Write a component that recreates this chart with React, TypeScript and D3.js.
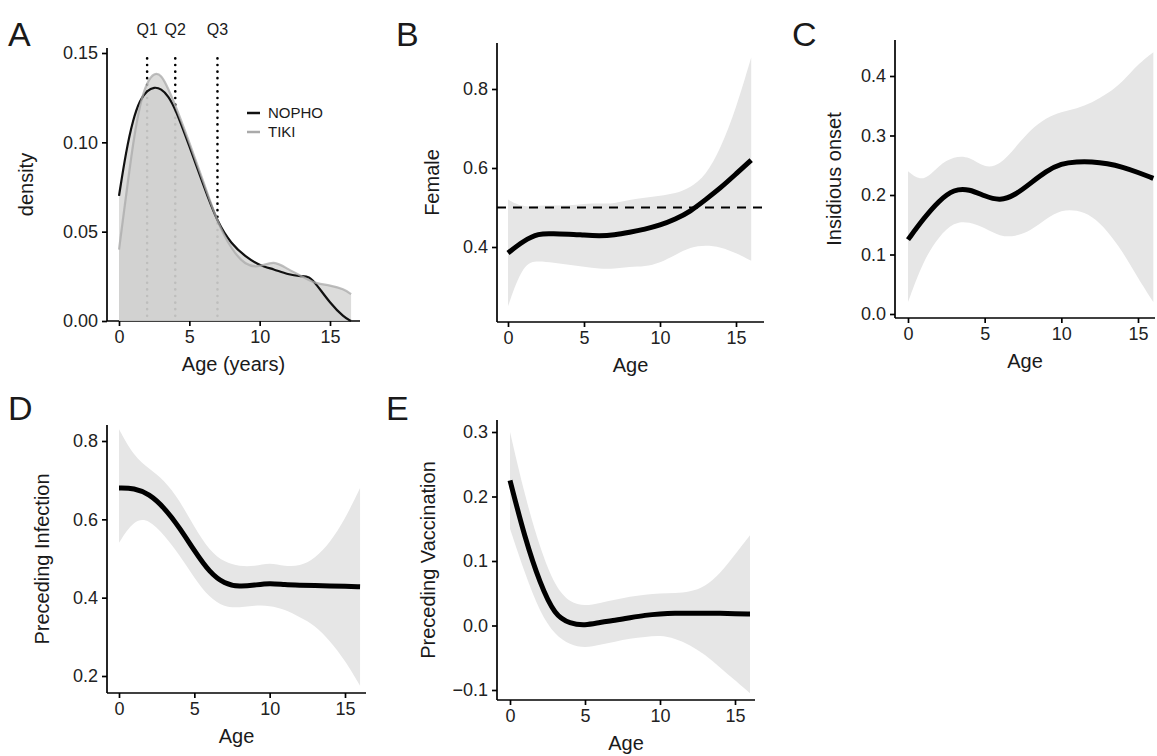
import { useEffect, useRef } from 'react';
import * as d3 from 'd3';

// Panel A: density by age
const densAges = [0, 0.5, 1, 1.5, 2, 2.5, 3, 3.5, 4, 5, 6, 7, 8, 9, 10, 11, 12, 13, 13.5, 14, 15, 16, 16.5];
const nopho = [0.07, 0.095, 0.113, 0.124, 0.129, 0.131, 0.13, 0.126, 0.119, 0.098, 0.076, 0.055, 0.043, 0.036, 0.031, 0.029, 0.026, 0.025, 0.025, 0.021, 0.01, 0.002, 0.0];
const tiki = [0.04, 0.07, 0.1, 0.122, 0.134, 0.139, 0.138, 0.13, 0.121, 0.1, 0.078, 0.055, 0.04, 0.031, 0.03, 0.034, 0.029, 0.025, 0.023, 0.021, 0.02, 0.018, 0.015];
const quartiles = [2, 4, 7];
const quartileLabels = ['Q1', 'Q2', 'Q3'];

// Panels B–E: smoothed fits with confidence bands
const ages = [0, 1, 2, 3, 4, 5, 6, 7, 8, 9, 10, 11, 12, 13, 14, 15, 16];
const femaleFit = [0.385, 0.415, 0.435, 0.433, 0.433, 0.43, 0.428, 0.43, 0.437, 0.445, 0.455, 0.47, 0.49, 0.52, 0.55, 0.585, 0.62];
const femaleLo = [0.25, 0.36, 0.365, 0.36, 0.355, 0.35, 0.345, 0.345, 0.35, 0.35, 0.36, 0.38, 0.4, 0.405, 0.4, 0.385, 0.365];
const femaleHi = [0.52, 0.5, 0.505, 0.505, 0.505, 0.51, 0.51, 0.51, 0.52, 0.525, 0.53, 0.535, 0.55, 0.58, 0.65, 0.75, 0.88];
const onsetFit = [0.125, 0.16, 0.19, 0.21, 0.21, 0.198, 0.19, 0.2, 0.22, 0.24, 0.253, 0.256, 0.256, 0.253, 0.247, 0.238, 0.228];
const onsetLo = [0.02, 0.09, 0.13, 0.155, 0.155, 0.145, 0.13, 0.13, 0.14, 0.16, 0.175, 0.175, 0.165, 0.14, 0.105, 0.06, 0.02];
const onsetHi = [0.24, 0.22, 0.25, 0.265, 0.265, 0.245, 0.25, 0.28, 0.31, 0.33, 0.34, 0.345, 0.355, 0.37, 0.39, 0.42, 0.44];
const infFit = [0.68, 0.68, 0.665, 0.63, 0.58, 0.52, 0.465, 0.435, 0.428, 0.432, 0.437, 0.433, 0.432, 0.431, 0.43, 0.429, 0.428];
const infLo = [0.54, 0.6, 0.6, 0.56, 0.51, 0.45, 0.4, 0.375, 0.375, 0.38, 0.38, 0.37, 0.35, 0.33, 0.29, 0.24, 0.175];
const infHi = [0.83, 0.76, 0.73, 0.7, 0.65, 0.58, 0.52, 0.49, 0.48, 0.48, 0.49, 0.48, 0.48, 0.5, 0.54, 0.6, 0.68];
const vacFit = [0.225, 0.135, 0.065, 0.015, 0.003, 0.0, 0.005, 0.008, 0.012, 0.016, 0.018, 0.019, 0.019, 0.019, 0.019, 0.018, 0.018];
const vacLo = [0.15, 0.08, 0.02, -0.015, -0.03, -0.035, -0.03, -0.025, -0.02, -0.018, -0.015, -0.02, -0.03, -0.045, -0.065, -0.085, -0.105];
const vacHi = [0.3, 0.2, 0.12, 0.06, 0.035, 0.03, 0.035, 0.04, 0.045, 0.048, 0.05, 0.05, 0.052, 0.06, 0.08, 0.11, 0.14];

const FONT = 'Liberation Sans, Arial, sans-serif';

const App = () => {
    const svgRef = useRef();

    useEffect(() => {
        const svg = d3.select(svgRef.current);
        svg.selectAll('*').remove();
        svg.style('font-family', FONT).style('fill', '#1a1a1a');

        // draws axes for one panel, returns scales
        const axes = (g, o) => {
            const x = d3.scaleLinear().domain([0, 15]).range([o.x0, o.x15]);
            const y = d3.scaleLinear().domain(o.yd).range([o.yb, o.yt]);
            const xa = g.append('g').attr('transform', `translate(0,${o.axisY})`)
                .call(d3.axisBottom(x).tickValues([0, 5, 10, 15]).tickSize(5).tickPadding(4).tickSizeOuter(0));
            xa.select('.domain').attr('d', `M${o.axisX},0H${o.xEnd}`);
            const ya = g.append('g').attr('transform', `translate(${o.axisX},0)`)
                .call(d3.axisLeft(y).tickValues(o.yt2).tickSize(5).tickPadding(4).tickSizeOuter(0));
            ya.select('.domain').attr('d', `M0,${o.axisTop}V${o.axisY}`);
            [xa, ya].forEach(a => {
                a.attr('font-size', 18).attr('font-family', FONT);
                a.selectAll('path,line').attr('stroke', '#000').attr('stroke-width', 1.7);
                a.selectAll('text').attr('fill', '#222');
            });
            ya.selectAll('text').text(d => d3.format(o.fmt)(d).replace('-', '\u2212'));
            g.append('text').attr('x', (o.axisX + o.xEnd) / 2).attr('y', o.axisY + 50)
                .attr('text-anchor', 'middle').attr('font-size', 20).text(o.xt);
            g.append('text').attr('transform', `translate(${o.axisX - o.yOff},${(o.axisTop + o.axisY) / 2}) rotate(-90)`)
                .attr('text-anchor', 'middle').attr('font-size', 20).text(o.ylab);
            g.append('text').attr('x', o.lx).attr('y', o.ly).attr('font-size', 34).text(o.letter);
            return { x, y };
        };

        const fitPanel = (o, fit, lo, hi) => {
            const g = svg.append('g');
            const { x, y } = axes(g, o);
            const band = d3.area().x((d, i) => x(ages[i])).y0((d, i) => y(lo[i])).y1((d, i) => y(hi[i])).curve(d3.curveBasis);
            g.append('path').datum(fit).attr('d', band).attr('fill', '#e6e6e6');
            if (o.ref !== undefined) {
                g.append('line').attr('x1', o.axisX).attr('x2', o.xEnd).attr('y1', y(o.ref)).attr('y2', y(o.ref))
                    .attr('stroke', '#000').attr('stroke-width', 2).attr('stroke-dasharray', '9,7');
            }
            const line = d3.line().x((d, i) => x(ages[i])).y(d => y(d)).curve(d3.curveBasis);
            g.append('path').datum(fit).attr('d', line).attr('fill', 'none').attr('stroke', '#000').attr('stroke-width', 5);
        };

        // Panel A
        {
            const g = svg.append('g');
            const o = { x0: 119, x15: 330, yd: [0, 0.15], yb: 321, yt: 53, axisX: 107, axisY: 321, axisTop: 48, xEnd: 360,
                yt2: [0, 0.05, 0.1, 0.15], fmt: '.2f', xt: 'Age (years)', ylab: 'density', letter: 'A', lx: 8, ly: 46, yOff: 74 };
            const { x, y } = axes(g, o);
            quartiles.forEach((q, i) => {
                g.append('line').attr('x1', x(q)).attr('x2', x(q)).attr('y1', y(0.147)).attr('y2', y(0))
                    .attr('stroke', '#000').attr('stroke-width', 2.6).attr('stroke-dasharray', '0.1,6.5').attr('stroke-linecap', 'round');
                g.append('text').attr('x', x(q)).attr('y', 35).attr('text-anchor', 'middle').attr('font-size', 16).text(quartileLabels[i]);
            });
            const area = d3.area().x((d, i) => x(densAges[i])).y0(y(0)).y1(d => y(d)).curve(d3.curveBasis);
            [nopho, tiki].forEach(s => g.append('path').datum(s).attr('d', area).attr('fill', '#cfcfcd').attr('opacity', 0.72));
            const line = d3.line().x((d, i) => x(densAges[i])).y(d => y(d)).curve(d3.curveBasis);
            g.append('path').datum(nopho).attr('d', line).attr('fill', 'none').attr('stroke', '#111').attr('stroke-width', 2.2);
            g.append('path').datum(tiki).attr('d', line).attr('fill', 'none').attr('stroke', '#aaa').attr('stroke-width', 2.2).attr('opacity', 0.75);
            [['NOPHO', '#111'], ['TIKI', '#aaa']].forEach(([n, c], i) => {
                const yy = 113 + i * 19;
                g.append('line').attr('x1', 247).attr('x2', 260).attr('y1', yy).attr('y2', yy).attr('stroke', c).attr('stroke-width', 2.5);
                g.append('text').attr('x', 268).attr('y', yy + 5).attr('font-size', 15).text(n);
            });
        }

        fitPanel({ x0: 508, x15: 736, yd: [0.4, 0.8], yb: 247, yt: 89, axisX: 497, axisY: 322, axisTop: 43, xEnd: 764,
            yt2: [0.4, 0.6, 0.8], fmt: '.1f', xt: 'Age', ylab: 'Female', letter: 'B', lx: 396, ly: 46, ref: 0.5, yOff: 58 },
            femaleFit, femaleLo, femaleHi);
        fitPanel({ x0: 908, x15: 1138, yd: [0, 0.4], yb: 314, yt: 76, axisX: 895, axisY: 318, axisTop: 40, xEnd: 1155,
            yt2: [0, 0.1, 0.2, 0.3, 0.4], fmt: '.1f', xt: 'Age', ylab: 'Insidious onset', letter: 'C', lx: 792, ly: 46, yOff: 54 },
            onsetFit, onsetLo, onsetHi);
        fitPanel({ x0: 119, x15: 345, yd: [0.2, 0.8], yb: 676, yt: 441, axisX: 107, axisY: 693, axisTop: 425, xEnd: 366,
            yt2: [0.2, 0.4, 0.6, 0.8], fmt: '.1f', xt: 'Age', ylab: 'Preceding Infection', letter: 'D', lx: 8, ly: 420, yOff: 58 },
            infFit, infLo, infHi);
        fitPanel({ x0: 510, x15: 735, yd: [-0.1, 0.3], yb: 690, yt: 432, axisX: 497, axisY: 700, axisTop: 420, xEnd: 755,
            yt2: [-0.1, 0, 0.1, 0.2, 0.3], fmt: '.1f', xt: 'Age', ylab: 'Preceding Vaccination', letter: 'E', lx: 386, ly: 420, yOff: 62 },
            vacFit, vacLo, vacHi);
    }, []);

    return <svg ref={svgRef} width={1157} height={756} style={{ position: 'absolute', left: 0, top: 0 }}></svg>;
};

export default App;
